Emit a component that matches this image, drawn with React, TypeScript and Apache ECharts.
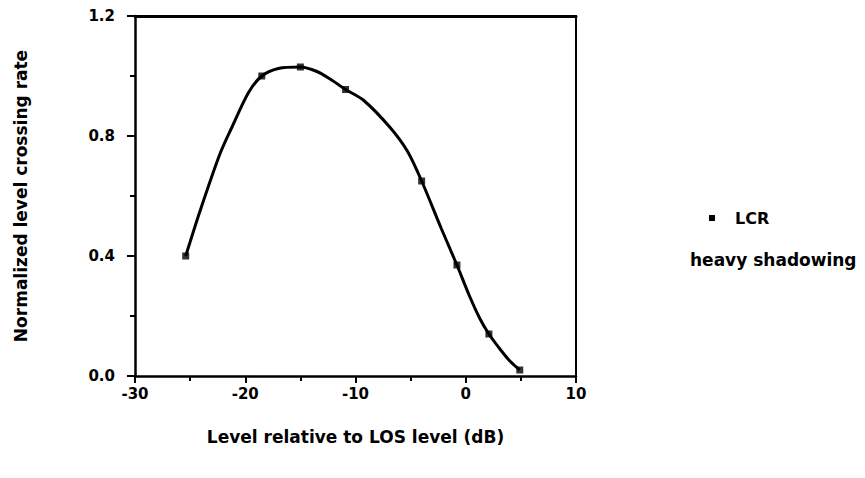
import React, { useEffect, useRef } from "react";
import * as echarts from "echarts";

// Traced curve (dB, normalized LCR)
const curveX = [-25.4, -24.1, -22.3, -21.2, -19.7, -18.5, -17.0, -15.0, -13.5, -12.3, -10.9, -9.3, -6.9, -5.3, -4.0, -2.2, -0.8, 0.3, 1.3, 2.1, 3.1, 4.0, 4.9];
const curveY = [0.40, 0.55, 0.74, 0.83, 0.945, 1.0, 1.025, 1.03, 1.015, 0.99, 0.955, 0.92, 0.83, 0.75, 0.65, 0.49, 0.37, 0.27, 0.19, 0.14, 0.09, 0.05, 0.02];

// Measured points (square markers)
const markerX = [-25.4, -18.5, -15.0, -10.9, -4.0, -0.8, 2.1, 4.9];
const markerY = [0.40, 1.0, 1.03, 0.955, 0.65, 0.37, 0.14, 0.02];

const xTicks = [-30, -20, -10, 0, 10];
const yTicks = [0.0, 0.4, 0.8, 1.2];

const legendName = "LCR";
const legendSub = "heavy shadowing";
const xTitle = "Level relative to LOS level (dB)";
const yTitle = "Normalized level crossing rate";

const FONT = "DejaVu Sans";

export default function App() {
  const ref = useRef<HTMLDivElement>(null);
  useEffect(() => {
    if (!ref.current) return;
    const chart = echarts.init(ref.current, null, { renderer: "svg" });
    const axisText = { color: "#000", fontFamily: FONT, fontWeight: "bold" as const, fontSize: 15 };
    chart.setOption({
      animation: false,
      backgroundColor: "#fff",
      grid: { left: 135, right: 289, top: 16, bottom: 102, containLabel: false },
      xAxis: [
        {
          type: "value",
          min: xTicks[0],
          max: xTicks[xTicks.length - 1],
          interval: 10,
          axisLine: { onZero: false, lineStyle: { color: "#000", width: 2.5 } },
          axisTick: { show: true, length: 7, lineStyle: { color: "#000", width: 2 } },
          minorTick: { show: true, splitNumber: 2, length: 5, lineStyle: { color: "#000", width: 2 } },
          splitLine: { show: false },
          axisLabel: { ...axisText, margin: 10, formatter: (v: number) => String(v) },
          name: xTitle,
          nameLocation: "middle",
          nameGap: 52,
          nameTextStyle: { ...axisText, fontSize: 17 },
        },
        {
          type: "value",
          position: "top",
          min: xTicks[0],
          max: xTicks[xTicks.length - 1],
          axisLine: { show: true, onZero: false, lineStyle: { color: "#000", width: 3 } },
          axisTick: { show: false },
          axisLabel: { show: false },
          splitLine: { show: false },
        },
      ],
      yAxis: [
        {
          type: "value",
          min: yTicks[0],
          max: yTicks[yTicks.length - 1],
          interval: 0.4,
          axisLine: { onZero: false, lineStyle: { color: "#000", width: 2.5 } },
          axisTick: { show: true, length: 8, lineStyle: { color: "#000", width: 2 } },
          minorTick: { show: true, splitNumber: 2, length: 5, lineStyle: { color: "#000", width: 2 } },
          splitLine: { show: false },
          axisLabel: { ...axisText, margin: 20, formatter: (v: number) => v.toFixed(1) },
          name: yTitle,
          nameLocation: "middle",
          nameGap: 106,
          nameRotate: 90,
          nameTextStyle: { ...axisText, fontSize: 17 },
        },
        {
          type: "value",
          position: "right",
          min: yTicks[0],
          max: yTicks[yTicks.length - 1],
          axisLine: { show: true, onZero: false, lineStyle: { color: "#000", width: 2 } },
          axisTick: { show: false },
          axisLabel: { show: false },
          splitLine: { show: false },
        },
      ],
      series: [
        {
          type: "line",
          data: curveX.map((x, i) => [x, curveY[i]]),
          smooth: 0.3,
          showSymbol: false,
          lineStyle: { color: "#000", width: 3 },
          z: 2,
        },
        {
          type: "scatter",
          data: markerX.map((x, i) => [x, markerY[i]]),
          symbol: "rect",
          symbolSize: 7,
          itemStyle: { color: "#000" },
          z: 3,
        },
      ],
      graphic: [
        { type: "rect", shape: { x: 709, y: 215, width: 6, height: 6 }, style: { fill: "#000" } },
        {
          type: "text",
          x: 735,
          y: 218,
          style: { text: legendName, fill: "#000", font: `bold 16px "${FONT}"`, textVerticalAlign: "middle" },
        },
        {
          type: "text",
          x: 690,
          y: 260,
          style: { text: legendSub, fill: "#000", font: `bold 17px "${FONT}"`, textVerticalAlign: "middle" },
        },
      ],
    });
    return () => chart.dispose();
  }, []);
  return <div ref={ref} style={{ position: "absolute", left: 0, top: 0, width: 865, height: 478 }} />;
}
